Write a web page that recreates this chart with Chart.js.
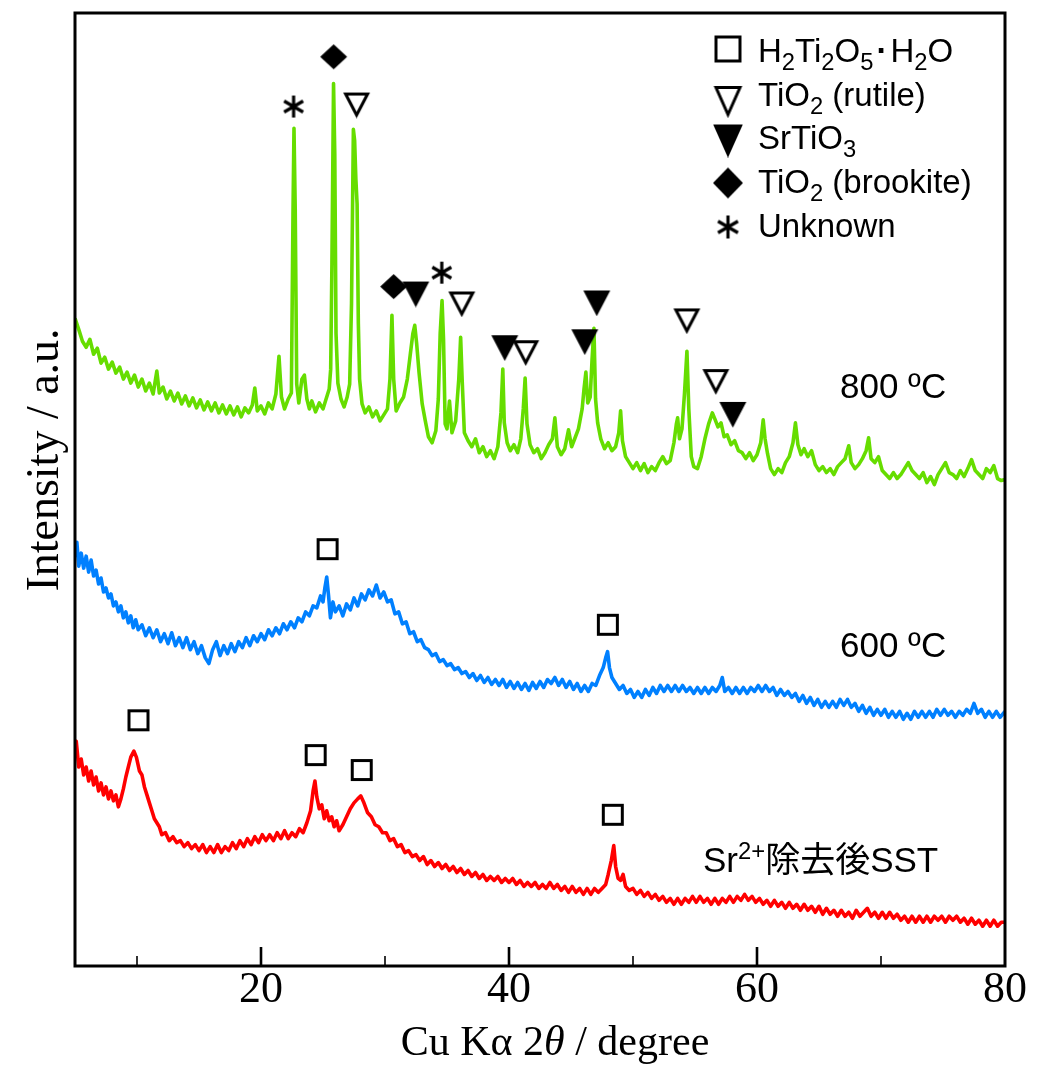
<!DOCTYPE html>
<html>
<head>
<meta charset="utf-8">
<script src="https://cdn.jsdelivr.net/npm/chart.js@4.4.1/dist/chart.umd.min.js"></script>
<style>
  html, body { margin: 0; background: #fff; }
  #wrap { width: 1038px; height: 1073px; }
</style>
</head>
<body>
<div id="wrap"><canvas id="xrd"></canvas></div>
<script>
// 2theta (deg), intensity (a.u.)
const green800 = [
  [5.0,651],[5.3,640],[5.6,628],[5.9,622],[6.2,630],[6.5,615],[6.8,621],[7.1,606],[7.4,612],[7.7,600],
  [8.0,607],[8.3,596],[8.6,602],[8.9,590],[9.2,597],[9.5,586],[9.8,594],[10.1,582],[10.4,590],[10.7,578],
  [11.0,586],[11.3,575],[11.6,598],[11.8,576],[12.1,582],[12.4,570],[12.7,578],[13.0,568],[13.3,576],[13.6,565],
  [13.9,573],[14.2,563],[14.5,571],[14.8,561],[15.1,569],[15.4,559],[15.7,567],[16.0,558],[16.3,566],[16.6,556],
  [16.9,564],[17.2,555],[17.5,563],[17.8,554],[18.1,562],[18.4,552],[18.7,561],[19.0,556],[19.3,564],[19.5,581],
  [19.7,558],[20.0,563],[20.3,555],[20.6,566],[20.9,560],[21.2,575],[21.45,613],[21.65,572],[21.9,560],[22.2,570],
  [22.45,576],[22.58,756],[22.66,842],[22.76,761],[22.88,585],[23.05,566],[23.3,590],[23.5,594],[23.7,570],[23.9,560],
  [24.1,568],[24.4,557],[24.7,566],[25.0,560],[25.3,572],[25.5,580],[25.62,600],[25.72,706],[25.85,887],[25.95,816],
  [26.05,636],[26.2,586],[26.45,570],[26.7,562],[26.95,572],[27.15,585],[27.3,666],[27.45,841],[27.55,830],[27.65,791],
  [27.75,766],[27.85,646],[27.95,590],[28.15,565],[28.4,556],[28.7,562],[29.0,552],[29.3,558],[29.6,548],[29.9,554],
  [30.2,560],[30.4,590],[30.56,654],[30.7,590],[30.9,558],[31.2,566],[31.5,572],[31.8,590],[32.05,616],[32.25,636],
  [32.4,644],[32.55,626],[32.75,596],[33.0,565],[33.25,548],[33.5,532],[33.8,526],[34.1,538],[34.3,570],[34.45,636],
  [34.6,669],[34.72,630],[34.85,545],[35.0,540],[35.2,568],[35.4,536],[35.7,548],[35.95,590],[36.1,632],[36.22,590],
  [36.4,536],[36.7,528],[37.0,522],[37.3,530],[37.6,516],[37.9,522],[38.2,512],[38.5,518],[38.8,510],[39.1,522],
  [39.35,556],[39.5,600],[39.62,546],[39.85,526],[40.1,518],[40.4,524],[40.7,516],[40.95,530],[41.15,560],[41.3,591],
  [41.45,545],[41.7,524],[42.0,516],[42.3,520],[42.6,510],[42.9,516],[43.2,524],[43.5,530],[43.7,551],[43.9,522],
  [44.2,514],[44.5,520],[44.8,539],[45.05,522],[45.3,530],[45.6,540],[45.9,560],[46.05,580],[46.2,597],[46.35,566],
  [46.55,572],[46.7,610],[46.85,641],[46.98,570],[47.15,546],[47.4,530],[47.7,520],[48.0,526],[48.3,518],[48.6,522],
  [48.85,536],[49.0,558],[49.15,528],[49.4,512],[49.7,506],[50.0,500],[50.3,506],[50.6,498],[50.9,505],[51.2,496],
  [51.5,502],[51.8,498],[52.1,506],[52.4,512],[52.7,505],[53.0,508],[53.3,526],[53.5,545],[53.6,551],[53.75,530],
  [53.95,540],[54.15,575],[54.35,618],[54.5,560],[54.7,512],[54.9,502],[55.2,500],[55.5,512],[55.8,530],[56.1,545],
  [56.4,556],[56.6,550],[56.85,542],[57.1,546],[57.35,532],[57.6,534],[57.9,524],[58.2,528],[58.5,518],[58.8,516],
  [59.1,510],[59.4,516],[59.7,508],[60.0,514],[60.3,526],[60.5,549],[60.65,530],[60.85,515],[61.1,500],[61.4,494],
  [61.7,500],[62.0,496],[62.3,506],[62.6,512],[62.9,526],[63.1,546],[63.3,524],[63.55,514],[63.8,520],[64.1,512],
  [64.4,518],[64.7,504],[65.0,498],[65.3,502],[65.6,496],[65.9,500],[66.2,494],[66.5,502],[66.8,506],[67.1,510],
  [67.4,523],[67.6,506],[67.9,500],[68.2,504],[68.5,510],[68.8,518],[69.0,531],[69.2,510],[69.5,506],[69.8,512],
  [70.1,498],[70.4,494],[70.7,490],[71.0,496],[71.3,490],[71.6,494],[71.9,500],[72.2,506],[72.5,498],[72.8,494],
  [73.1,490],[73.4,496],[73.7,486],[74.0,492],[74.3,484],[74.6,494],[74.9,500],[75.2,506],[75.5,496],[75.8,494],
  [76.1,490],[76.4,498],[76.7,492],[77.0,500],[77.3,509],[77.6,498],[77.9,494],[78.2,490],[78.5,500],[78.8,496],
  [79.1,503],[79.4,490],[79.7,488],[80.0,489]
];

const blue600 = [
  [5.0,411],[5.15,426],[5.3,402],[5.5,415],[5.7,400],[5.9,412],[6.1,396],[6.3,408],[6.5,392],[6.7,398],
  [6.9,384],[7.1,390],[7.3,376],[7.5,380],[7.7,370],[7.9,374],[8.1,362],[8.3,366],[8.5,356],[8.7,362],
  [8.9,350],[9.1,356],[9.3,345],[9.5,352],[9.7,340],[9.9,348],[10.1,338],[10.4,343],[10.7,332],[11.0,340],
  [11.3,330],[11.6,338],[11.9,326],[12.2,334],[12.5,324],[12.8,335],[13.1,322],[13.4,330],[13.7,320],[14.0,330],
  [14.3,318],[14.6,326],[14.9,314],[15.2,322],[15.5,310],[15.8,304],[16.1,318],[16.4,326],[16.7,312],[17.0,322],
  [17.3,314],[17.6,324],[17.9,316],[18.2,326],[18.5,320],[18.8,330],[19.1,322],[19.4,332],[19.7,326],[20.0,334],
  [20.3,328],[20.6,338],[20.9,332],[21.2,340],[21.5,334],[21.8,344],[22.1,338],[22.4,346],[22.7,340],[23.0,350],
  [23.3,346],[23.6,356],[23.9,352],[24.2,362],[24.5,360],[24.8,372],[25.0,366],[25.15,380],[25.3,391],[25.45,372],
  [25.6,350],[25.8,366],[26.0,356],[26.3,362],[26.6,352],[26.9,364],[27.2,358],[27.5,370],[27.8,362],[28.1,374],
  [28.4,368],[28.7,378],[29.0,372],[29.3,383],[29.6,370],[29.9,376],[30.2,366],[30.5,368],[30.8,354],[31.1,356],
  [31.4,344],[31.7,346],[32.0,334],[32.3,336],[32.6,326],[32.9,328],[33.2,320],[33.5,318],[33.8,312],[34.1,314],
  [34.4,306],[34.7,308],[35.0,302],[35.3,304],[35.6,298],[35.9,300],[36.2,294],[36.5,296],[36.8,290],[37.1,294],
  [37.4,287],[37.7,292],[38.0,285],[38.3,290],[38.6,283],[38.9,288],[39.2,282],[39.5,288],[39.8,280],[40.1,286],
  [40.4,279],[40.7,285],[41.0,278],[41.3,284],[41.6,277],[41.9,285],[42.2,279],[42.5,286],[42.8,280],[43.1,288],
  [43.4,284],[43.7,290],[44.0,282],[44.3,288],[44.6,280],[44.9,286],[45.2,278],[45.5,284],[45.8,276],[46.1,282],
  [46.4,276],[46.7,284],[47.0,282],[47.3,292],[47.6,300],[47.8,310],[47.95,316],[48.1,300],[48.3,290],[48.6,284],
  [48.9,278],[49.2,282],[49.5,274],[49.8,278],[50.1,270],[50.4,276],[50.7,270],[51.0,278],[51.3,272],[51.6,280],
  [51.9,274],[52.2,282],[52.5,276],[52.8,282],[53.1,276],[53.4,282],[53.7,276],[54.0,282],[54.3,276],[54.6,280],
  [54.9,274],[55.2,280],[55.5,274],[55.8,280],[56.1,274],[56.4,280],[56.7,276],[57.0,282],[57.2,290],[57.4,276],
  [57.7,280],[58.0,274],[58.3,280],[58.6,274],[58.9,280],[59.2,274],[59.5,280],[59.8,276],[60.1,282],[60.4,276],
  [60.7,282],[61.0,276],[61.3,280],[61.6,272],[61.9,278],[62.2,272],[62.5,276],[62.8,270],[63.1,274],[63.4,266],
  [63.7,272],[64.0,264],[64.3,270],[64.6,262],[64.9,268],[65.2,260],[65.5,266],[65.8,260],[66.1,266],[66.4,260],
  [66.7,268],[67.0,262],[67.3,268],[67.6,260],[67.9,264],[68.2,256],[68.5,262],[68.8,254],[69.1,260],[69.4,252],
  [69.7,258],[70.0,252],[70.3,258],[70.6,250],[70.9,256],[71.2,250],[71.5,256],[71.8,248],[72.1,254],[72.4,248],
  [72.7,256],[73.0,250],[73.3,256],[73.6,250],[73.9,256],[74.2,250],[74.5,258],[74.8,252],[75.1,258],[75.4,252],
  [75.7,256],[76.0,250],[76.3,256],[76.6,252],[76.9,258],[77.2,254],[77.5,264],[77.8,254],[78.1,258],[78.4,250],
  [78.7,256],[79.0,250],[79.3,256],[79.6,250],[80.0,256]
];

const redSST = [
  [5.0,216],[5.1,226],[5.3,200],[5.5,208],[5.7,192],[5.9,200],[6.1,186],[6.3,196],[6.5,182],[6.7,190],
  [6.9,176],[7.1,184],[7.3,172],[7.5,180],[7.7,168],[7.9,176],[8.1,166],[8.3,172],[8.5,160],[8.7,168],
  [8.9,178],[9.1,190],[9.3,200],[9.5,210],[9.75,216],[9.95,210],[10.2,196],[10.4,192],[10.6,180],[10.8,172],
  [11.0,164],[11.2,156],[11.4,148],[11.6,144],[11.8,140],[12.0,132],[12.3,134],[12.6,126],[12.9,130],[13.2,124],
  [13.5,126],[13.8,120],[14.1,124],[14.4,118],[14.7,122],[15.0,116],[15.3,122],[15.6,114],[15.9,120],[16.2,114],
  [16.5,122],[16.8,114],[17.1,120],[17.4,116],[17.7,124],[18.0,118],[18.3,126],[18.6,120],[18.9,128],[19.2,122],
  [19.5,130],[19.8,124],[20.1,132],[20.4,126],[20.7,132],[21.0,126],[21.3,134],[21.6,128],[21.9,136],[22.2,128],
  [22.5,134],[22.8,130],[23.1,138],[23.4,134],[23.7,144],[24.0,156],[24.2,176],[24.35,186],[24.5,170],[24.7,158],
  [24.9,162],[25.1,148],[25.3,156],[25.5,146],[25.7,150],[25.9,140],[26.1,146],[26.3,136],[26.6,142],[26.9,150],
  [27.2,158],[27.5,164],[27.8,168],[28.05,171],[28.3,164],[28.6,154],[28.9,150],[29.2,142],[29.5,140],[29.8,134],
  [30.1,134],[30.4,126],[30.7,128],[31.0,120],[31.3,122],[31.6,114],[31.9,116],[32.2,110],[32.5,112],[32.8,106],
  [33.1,110],[33.4,102],[33.7,106],[34.0,100],[34.3,104],[34.6,98],[34.9,102],[35.2,96],[35.5,100],[35.8,94],
  [36.1,98],[36.4,92],[36.7,96],[37.0,90],[37.3,94],[37.6,88],[37.9,92],[38.2,86],[38.5,90],[38.8,86],
  [39.1,90],[39.4,84],[39.7,88],[40.0,84],[40.3,88],[40.6,82],[40.9,86],[41.2,80],[41.5,84],[41.8,80],
  [42.1,84],[42.4,78],[42.7,82],[43.0,78],[43.3,84],[43.6,78],[43.9,82],[44.2,76],[44.5,80],[44.8,74],
  [45.1,80],[45.4,74],[45.7,78],[46.0,72],[46.3,78],[46.6,72],[46.9,78],[47.2,74],[47.5,78],[47.8,82],
  [48.0,92],[48.25,106],[48.45,121],[48.6,100],[48.8,88],[49.0,86],[49.2,92],[49.4,80],[49.7,76],[50.0,78],
  [50.3,72],[50.6,76],[50.9,70],[51.2,74],[51.5,68],[51.8,72],[52.1,66],[52.4,70],[52.7,64],[53.0,68],
  [53.3,62],[53.6,68],[53.9,62],[54.2,68],[54.5,64],[54.8,70],[55.1,64],[55.4,70],[55.7,64],[56.0,68],
  [56.3,62],[56.6,68],[56.9,62],[57.2,68],[57.5,64],[57.8,70],[58.1,64],[58.4,70],[58.7,66],[59.0,72],
  [59.3,66],[59.6,70],[59.9,64],[60.2,68],[60.5,62],[60.8,66],[61.1,60],[61.4,66],[61.7,60],[62.0,64],
  [62.3,58],[62.6,64],[62.9,58],[63.2,62],[63.5,56],[63.8,62],[64.1,56],[64.4,60],[64.7,54],[65.0,60],
  [65.3,52],[65.6,58],[65.9,52],[66.2,56],[66.5,50],[66.8,56],[67.1,50],[67.4,54],[67.7,48],[68.0,56],
  [68.3,50],[68.6,54],[68.9,58],[69.2,50],[69.5,54],[69.8,48],[70.1,54],[70.4,48],[70.7,54],[71.0,48],
  [71.3,52],[71.6,46],[71.9,50],[72.2,44],[72.5,50],[72.8,44],[73.1,50],[73.4,44],[73.7,50],[74.0,44],
  [74.3,50],[74.6,46],[74.9,50],[75.2,44],[75.5,50],[75.8,46],[76.1,50],[76.4,44],[76.7,48],[77.0,42],
  [77.3,48],[77.6,42],[77.9,46],[78.2,40],[78.5,46],[78.8,40],[79.1,46],[79.4,40],[79.7,44],[80.0,44]
];

// phase markers (2theta, intensity)
const h2ti2o5Marks = [[25.37,419],[47.97,343],[10.12,247],[24.41,212],[28.12,197],[48.37,152]];
const rutileMarks = [[27.71,866],[36.19,666],[41.35,617],[54.34,649],[56.68,588]];
const srtio3Marks = [[32.48,676],[39.66,622],[46.11,628],[47.08,667],[58.05,555]];
const brookiteMarks = [[25.86,914],[30.70,683]];
const unknownMarks = [[22.63,864],[34.58,697]];

const majorTicks = [20, 40, 60];
const minorTicks = [10, 30, 50, 70];
const tickLabels = [20, 40, 60, 80];

const SANS = '"Liberation Sans", Arial, "Noto Sans CJK JP", sans-serif';
const SERIF = '"Liberation Serif", "Times New Roman", serif';

const toXY = arr => arr.map(p => ({x: p[0], y: p[1]}));

// small canvases used as point styles
function makeShape(kind, w, h, lw) {
  const cv = document.createElement('canvas');
  cv.width = w + 4; cv.height = h + 4;
  const g = cv.getContext('2d');
  g.lineWidth = lw;
  g.strokeStyle = '#000';
  g.lineJoin = 'miter';
  const o = 2 + lw / 2, W = cv.width, H = cv.height;
  g.beginPath();
  if (kind === 'triOpen' || kind === 'triFill') {
    g.moveTo(o, o); g.lineTo(W - o, o); g.lineTo(W / 2, H - o); g.closePath();
    g.fillStyle = kind === 'triOpen' ? '#fff' : '#000';
    g.fill(); g.stroke();
  } else if (kind === 'square') {
    g.rect(o, o, W - 2 * o, H - 2 * o);
    g.fillStyle = '#fff'; g.fill(); g.stroke();
  } else if (kind === 'diamond') {
    g.moveTo(W / 2, 2); g.lineTo(W - 2, H / 2); g.lineTo(W / 2, H - 2); g.lineTo(2, H / 2); g.closePath();
    g.fillStyle = '#000'; g.fill();
  } else if (kind === 'ast') {
    const r = w / 2;
    [90, 30, 150].forEach(d => {
      const t = d * Math.PI / 180;
      g.moveTo(W / 2 + r * Math.cos(t), H / 2 - r * Math.sin(t));
      g.lineTo(W / 2 - r * Math.cos(t), H / 2 + r * Math.sin(t));
    });
    g.stroke();
  }
  return cv;
}

const symSquare = makeShape('square', 22, 22, 3);
const symTriOpen = makeShape('triOpen', 25, 24, 3);
const symTriFill = makeShape('triFill', 25, 24, 3);
const symDiamond = makeShape('diamond', 27, 25, 0);
const symAst = makeShape('ast', 22, 22, 3.2);

const legSquare = makeShape('square', 27, 27, 3);
const legTriOpen = makeShape('triOpen', 27, 30, 3);
const legTriFill = makeShape('triFill', 28, 31, 3);
const legDiamond = makeShape('diamond', 30, 31, 0);
const legAst = makeShape('ast', 23, 23, 3.2);

const legendRows = [
  {sym: legSquare, cy: 49, parts: [['H'], ['2', 'sub'], ['Ti'], ['2', 'sub'], ['O'], ['5', 'sub'], ['\u00B7', 'dot'], ['H'], ['2', 'sub'], ['O']]},
  {sym: legTriOpen, cy: 101, parts: [['TiO'], ['2', 'sub'], [' (rutile)']]},
  {sym: legTriFill, cy: 140, parts: [['SrTiO'], ['3', 'sub']]},
  {sym: legDiamond, cy: 183, parts: [['TiO'], ['2', 'sub'], [' (brookite)']]},
  {sym: legAst, cy: 227, parts: [['Unknown']]}
];
const legendBaselines = [62, 106, 149, 193, 237];

// draws text made of normal / sub / sup / italic pieces, returns width
function drawRich(ctx, parts, x, y, size, family, dry) {
  let cx = x;
  parts.forEach(([txt, kind]) => {
    let fs = size, dy = 0, pad = 0;
    if (kind === 'sub') { fs = size * 0.72; dy = size * 0.24; }
    if (kind === 'sup') { fs = size * 0.68; dy = -size * 0.36; }
    if (kind === 'dot') { pad = 3; }
    ctx.font = (kind === 'it' ? 'italic ' : '') + (kind === 'dot' ? 'bold ' : '') + fs + 'px ' + family;
    cx += pad;
    if (!dry) ctx.fillText(txt, cx, y + dy);
    cx += ctx.measureText(txt).width + pad;
  });
  return cx - x;
}

const decorPlugin = {
  id: 'decor',
  beforeDraw(chart) {
    const c = chart.ctx;
    c.save();
    c.fillStyle = '#fff';
    c.fillRect(0, 0, chart.width, chart.height);
    c.restore();
  },
  afterDraw(chart) {
    const ctx = chart.ctx, a = chart.chartArea, xs = chart.scales.x;
    ctx.save();
    ctx.strokeStyle = '#000';
    ctx.fillStyle = '#000';

    // inward tick marks on bottom axis
    const tick = (v, len, lw) => {
      const px = xs.getPixelForValue(v);
      ctx.lineWidth = lw;
      ctx.beginPath(); ctx.moveTo(px, a.bottom); ctx.lineTo(px, a.bottom - len); ctx.stroke();
    };
    minorTicks.forEach(v => tick(v, 10, 1.6));
    majorTicks.forEach(v => tick(v, 19, 2.6));

    // frame
    ctx.lineWidth = 3;
    ctx.strokeRect(a.left, a.top, a.right - a.left, a.bottom - a.top);

    // tick labels
    ctx.font = '44px ' + SERIF;
    ctx.textAlign = 'center';
    ctx.textBaseline = 'alphabetic';
    tickLabels.forEach(v => ctx.fillText(String(v), xs.getPixelForValue(v), a.bottom + 36));

    // axis titles
    ctx.textAlign = 'left';
    const xTitle = [['Cu K\u03B1 2'], ['\u03B8', 'it'], [' / degree']];
    const tw = drawRich(ctx, xTitle, 0, 0, 42, SERIF, true);
    drawRich(ctx, xTitle, (a.left + a.right) / 2 - tw / 2 + 15, a.bottom + 89, 42, SERIF, false);

    ctx.save();
    ctx.translate(58, 460);
    ctx.rotate(-Math.PI / 2);
    ctx.textAlign = 'center';
    ctx.font = '46px ' + SERIF;
    ctx.fillText('Intensity / a.u.', 0, 0);
    ctx.restore();

    // sample labels
    ctx.textAlign = 'left';
    drawRich(ctx, [['800 \u00BAC']], 840, 398, 35, SANS, false);
    drawRich(ctx, [['600 \u00BAC']], 840, 657, 35, SANS, false);
    drawRich(ctx, [['Sr'], ['2+', 'sup'], ['\u9664\u53BB\u5F8CSST']], 703, 872, 35, SANS, false);

    // phase legend
    legendRows.forEach((row, i) => {
      ctx.drawImage(row.sym, 728 - row.sym.width / 2, row.cy - row.sym.height / 2);
      drawRich(ctx, row.parts, 758, legendBaselines[i], 33, SANS, false);
    });
    ctx.restore();
  }
};

const traceStyle = {borderWidth: 3.6, borderJoinStyle: 'round', pointRadius: 0, tension: 0, fill: false, order: 2};
const markStyle = {type: 'scatter', showLine: false, pointRadius: 12, order: 0};

new Chart(document.getElementById('xrd'), {
  type: 'line',
  data: {
    datasets: [
      {label: '800 \u00BAC', data: toXY(green800), borderColor: '#66DD00', ...traceStyle},
      {label: '600 \u00BAC', data: toXY(blue600), borderColor: '#0080FF', ...traceStyle},
      {label: 'Sr2+\u9664\u53BB\u5F8CSST', data: toXY(redSST), borderColor: '#FF0000', ...traceStyle},
      {label: 'H2Ti2O5\u00B7H2O', data: toXY(h2ti2o5Marks), pointStyle: symSquare, ...markStyle},
      {label: 'TiO2 (rutile)', data: toXY(rutileMarks), pointStyle: symTriOpen, ...markStyle},
      {label: 'SrTiO3', data: toXY(srtio3Marks), pointStyle: symTriFill, ...markStyle},
      {label: 'TiO2 (brookite)', data: toXY(brookiteMarks), pointStyle: symDiamond, ...markStyle},
      {label: 'Unknown', data: toXY(unknownMarks), pointStyle: symAst, ...markStyle}
    ]
  },
  options: {
    responsive: true,
    maintainAspectRatio: false,
    animation: false,
    events: [],
    layout: {padding: {left: 75, right: 33, top: 8, bottom: 107}},
    scales: {
      x: {type: 'linear', min: 5, max: 80, display: false},
      y: {type: 'linear', min: 0, max: 958, display: false}
    },
    plugins: {legend: {display: false}, tooltip: {enabled: false}}
  },
  plugins: [decorPlugin]
});
</script>
</body>
</html>
